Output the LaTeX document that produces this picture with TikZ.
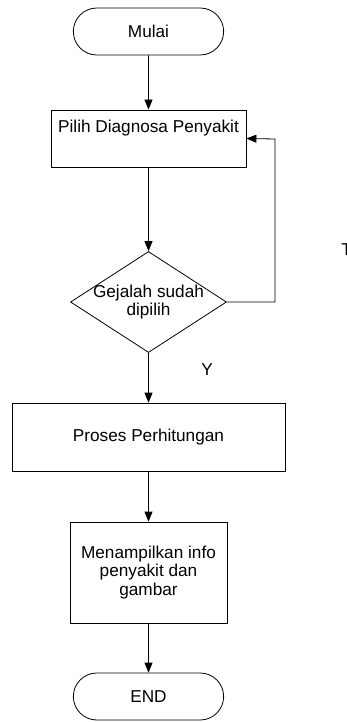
\documentclass[tikz,border=0pt]{standalone}
\usepackage{fontspec}
\setmainfont{Liberation Sans}
\usetikzlibrary{shapes.geometric}
\usetikzlibrary{shapes.misc}
\usetikzlibrary{arrows.meta}

\begin{document}
\begin{tikzpicture}[x=1pt,y=-1pt,
  font=\fontsize{17.2}{18.5}\selectfont,
  terminal/.style={draw,rounded rectangle,minimum width=157pt,minimum height=47pt,line width=0.8pt},
  kotak/.style={draw,rectangle,align=center,inner sep=0pt,line width=0.8pt},
  keputusan/.style={draw,diamond,align=center,inner sep=0pt,minimum width=156pt,minimum height=101pt,line width=0.8pt},
  panah/.style={-{Triangle[length=10pt,width=8pt]},line width=0.8pt}]
\useasboundingbox (0,0) rectangle (347,722);
\node[terminal] (mulai) at (148.5,31.5) {Mulai};
\node[kotak,minimum width=195pt,minimum height=57pt] (pilih) at (148.5,138.5) {Pilih Diagnosa Penyakit\\\strut};
\node[keputusan] (cek) at (148.5,302) {\makebox[0pt]{Gejalah sudah}\\\makebox[0pt]{dipilih}};
\node[kotak,minimum width=273pt,minimum height=68pt] (hitung) at (148.5,437) {Proses Perhitungan};
\node[kotak,minimum width=157pt,minimum height=101pt] (info) at (148.5,572.5) {Menampilkan info\\penyakit dan\\gambar};
\node[terminal] (selesai) at (148.5,696.5) {END};
\node (ya) at (207,370) {Y};
\node (tidak) at (346.5,250) {T};
\coordinate (balik) at (275,139);
\draw[panah] (mulai) -- (pilih);
\draw[panah] (pilih) -- (cek);
\draw[panah] (cek.east) -| (balik) -- (pilih.east);
\draw[panah] (cek) -- (hitung);
\draw[panah] (hitung) -- (info);
\draw[panah] (info) -- (selesai);
\end{tikzpicture}
\end{document}
